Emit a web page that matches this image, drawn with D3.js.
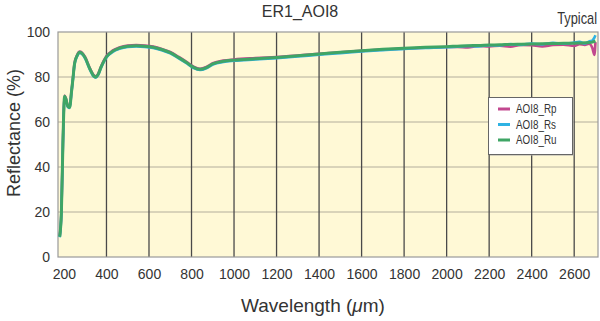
<!DOCTYPE html>
<html>
<head>
<meta charset="utf-8">
<script src="https://cdn.jsdelivr.net/npm/d3@7"></script>
<style>
  body { margin: 0; background: #fff; }
  text { font-family: "Liberation Sans", Arial, sans-serif; fill: #333; }
</style>
</head>
<body>
<div id="chart"></div>
<script>
// Wavelength samples (nm)
const wavelength = [180,188,195,203,210,218,227,235,242,250,
    262,274,285,300,320,340,350,360,375,400,
    430,460,500,540,580,620,660,700,740,780,
    810,840,870,900,950,1000,1100,1200,1300,1400,
    1500,1600,1700,1800,1900,2000,2050,2100,2150,2200,
    2250,2300,2350,2400,2450,2500,2550,2600,2625,2650,
    2670,2685,2695,2700];

const rp = [9.2,20.3,50.4,71.8,70.3,67.3,66.8,73.3,79.3,86.3,
    89.8,91.3,90.8,88.8,84.3,80.8,80.3,81.3,84.8,89.3,
    91.8,93.1,94,94.2,94,93.5,92.5,91.1,88.9,86.5,
    84.6,83.7,84.5,86.1,87.3,87.8,88.4,88.9,89.5,90.3,
    91,91.6,92.2,92.7,93,93.3,93.4,93.1,93.8,93.6,
    93.9,93.5,94.3,94.1,93.6,94.2,94.4,93.9,94.6,94.3,
    94.8,93,89.8,95.5];

const rs = [8.8,19.7,49.6,71.2,69.7,66.7,66.2,72.7,78.7,85.7,
    89.2,90.7,90.2,88.2,83.7,80.2,79.7,80.7,84.2,88.7,
    91.2,92.5,93.4,93.6,93.4,92.9,91.9,90.5,88.3,85.9,
    84,83.1,83.9,85.5,86.7,87.2,87.8,88.4,89.1,89.9,
    90.6,91.3,91.9,92.5,92.9,93.2,93.5,93.8,93.6,94.1,
    94,94.6,94.3,94.9,94.5,95.2,94.8,95.3,95.6,94.9,
    95.8,96.2,97.5,98.6];

const ru = [9,20,50,71.5,70,67,66.5,73,79,86,
    89.5,91,90.5,88.5,84,80.5,80,81,84.5,89,
    91.5,92.8,93.7,93.9,93.7,93.2,92.2,90.8,88.6,86.2,
    84.3,83.4,84.2,85.8,87,87.5,88.1,88.7,89.4,90.2,
    91,91.7,92.3,92.8,93.2,93.5,93.7,93.9,94,94.2,
    94.3,94.5,94.6,94.7,94.8,94.9,95,95,95.1,95.2,
    95.3,95.5,95.8,96];

const seriesNames = ["AOI8_Rp", "AOI8_Rs", "AOI8_Ru"];
const seriesColors = ["#c2488f", "#2fb2e3", "#3fa565"];
const xTicks = [200,400,600,800,1000,1200,1400,1600,1800,2000,2200,2400,2600];
const yTicks = [0,20,40,60,80,100];

const width = 600, height = 321;
const margin = { top: 32, right: 2, bottom: 64, left: 58 };

const svg = d3.select("#chart")
    .append("svg")
    .attr("width", width)
    .attr("height", height);

const xScale = d3.scaleLinear()
    .domain([172, 2712])
    .range([margin.left, width - margin.right]);

const yScale = d3.scaleLinear()
    .domain([0, 100])
    .range([height - margin.bottom, margin.top]);

// plot background
svg.append("rect")
    .attr("x", margin.left)
    .attr("y", margin.top)
    .attr("width", width - margin.left - margin.right)
    .attr("height", height - margin.top - margin.bottom)
    .attr("fill", "#fff9d6");

// horizontal grid
svg.append("g")
    .selectAll("line")
    .data(yTicks.filter(d => d > 0 && d < 100))
    .enter().append("line")
    .attr("x1", margin.left)
    .attr("x2", width - margin.right)
    .attr("y1", d => yScale(d))
    .attr("y2", d => yScale(d))
    .attr("stroke", "#b3ae9c")
    .attr("stroke-width", 1);

// vertical grid
svg.append("g")
    .selectAll("line")
    .data(xTicks.filter(d => d > 200))
    .enter().append("line")
    .attr("x1", d => xScale(d))
    .attr("x2", d => xScale(d))
    .attr("y1", margin.top)
    .attr("y2", height - margin.bottom)
    .attr("stroke", "#4a4a4a")
    .attr("stroke-width", 1.3);

// frame
svg.append("rect")
    .attr("x", margin.left)
    .attr("y", margin.top)
    .attr("width", width - margin.left - margin.right)
    .attr("height", height - margin.top - margin.bottom)
    .attr("fill", "none")
    .attr("stroke", "#999")
    .attr("stroke-width", 1.2);

// axes (labels only)
const xAxis = svg.append("g")
    .attr("transform", `translate(0, ${height - margin.bottom + 6})`)
    .call(d3.axisBottom(xScale).tickValues(xTicks).tickFormat(d3.format("d")).tickSize(0).tickPadding(6));
xAxis.select(".domain").remove();
xAxis.selectAll("text").style("font-size", "14px").attr("fill", "#333");

const yAxis = svg.append("g")
    .attr("transform", `translate(${margin.left - 6}, 0)`)
    .call(d3.axisLeft(yScale).tickValues(yTicks).tickFormat(d3.format("d")).tickSize(0).tickPadding(2));
yAxis.select(".domain").remove();
yAxis.selectAll("text").style("font-size", "14px").attr("fill", "#333");

// series lines
const series = [rp, rs, ru];
const line = d3.line()
    .x((d, i) => xScale(wavelength[i]))
    .y(d => yScale(d))
    .curve(d3.curveMonotoneX);

series.forEach((vals, k) => {
    svg.append("path")
        .datum(vals)
        .attr("d", line)
        .attr("fill", "none")
        .attr("stroke", seriesColors[k])
        .attr("stroke-width", k === 2 ? 3 : 2.6)
        .attr("stroke-linejoin", "round");
});

// title
svg.append("text")
    .attr("x", 300)
    .attr("y", 17)
    .style("text-anchor", "middle")
    .style("font-size", "16px")
    .text("ER1_AOI8");

// condensed look via horizontal squeeze
svg.append("text")
    .attr("transform", "translate(597, 24) scale(0.8, 1)")
    .style("text-anchor", "end")
    .style("font-size", "16px")
    .text("Typical");

// axis titles
const xTitle = svg.append("text")
    .attr("x", 313)
    .attr("y", 312)
    .style("text-anchor", "middle")
    .style("font-size", "19px");
xTitle.append("tspan").text("Wavelength (");
xTitle.append("tspan").style("font-style", "italic").text("\u03bc");
xTitle.append("tspan").text("m)");

svg.append("text")
    .attr("x", 0 - 133)
    .attr("y", 20)
    .attr("transform", "rotate(-90)")
    .style("text-anchor", "middle")
    .style("font-size", "18px")
    .text("Reflectance (%)");

// legend
const legendBox = svg.append("g");
legendBox.append("rect")
    .attr("x", 490)
    .attr("y", 99)
    .attr("width", 84)
    .attr("height", 57)
    .attr("fill", "#aaa")
    .attr("opacity", 0.5);
legendBox.append("rect")
    .attr("x", 488.5)
    .attr("y", 97.5)
    .attr("width", 84)
    .attr("height", 57)
    .attr("fill", "#fff")
    .attr("stroke", "#666");

const legend = svg.selectAll(".legend")
    .data(seriesNames)
    .enter().append("g")
    .attr("class", "legend")
    .attr("transform", (d, i) => "translate(0," + (109 + i * 15.5) + ")");

legend.append("line")
    .attr("x1", 498)
    .attr("x2", 510)
    .attr("stroke", (d, i) => seriesColors[i])
    .attr("stroke-width", 3);

legend.append("text")
    .attr("transform", "translate(516, 0) scale(0.82, 1)")
    .attr("dy", ".35em")
    .style("font-size", "12px")
    .text(d => d);
</script>
</body>
</html>
